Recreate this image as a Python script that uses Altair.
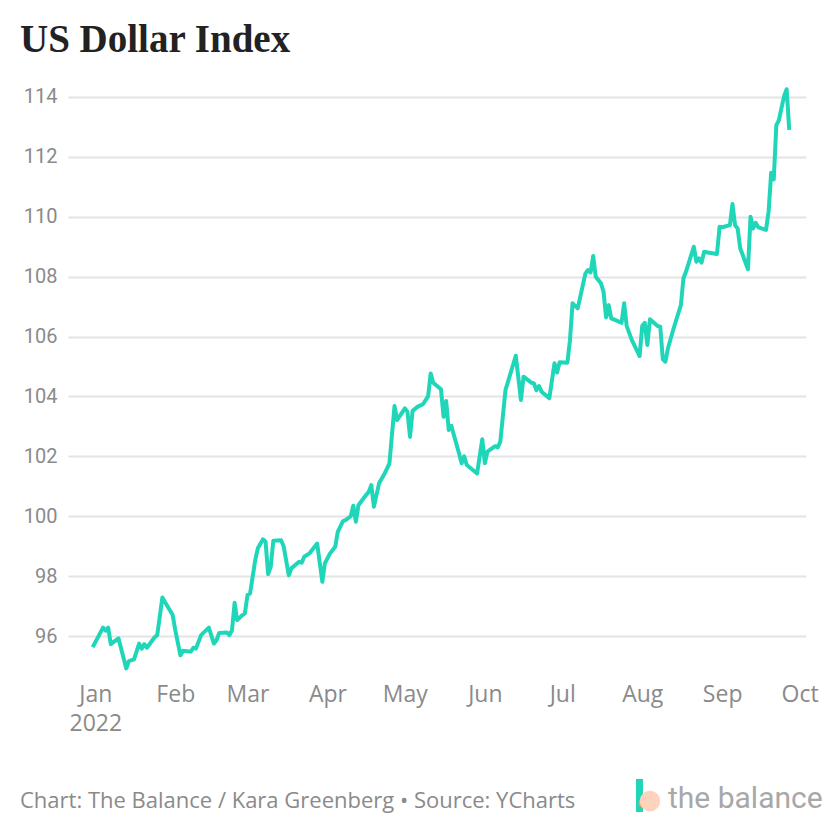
import altair as alt
import pandas as pd

# ---- data ----
dates = [
    "2021-12-31", "2022-01-04", "2022-01-05", "2022-01-06", "2022-01-07", "2022-01-10",
    "2022-01-13", "2022-01-14", "2022-01-16", "2022-01-18", "2022-01-19", "2022-01-20",
    "2022-01-21", "2022-01-24", "2022-01-25", "2022-01-27", "2022-01-28", "2022-01-31",
    "2022-02-01", "2022-02-03", "2022-02-04", "2022-02-07", "2022-02-08", "2022-02-09",
    "2022-02-11", "2022-02-14", "2022-02-16", "2022-02-17", "2022-02-18", "2022-02-21",
    "2022-02-22", "2022-02-23", "2022-02-24", "2022-02-25", "2022-02-27", "2022-02-28",
    "2022-03-01", "2022-03-02", "2022-03-04", "2022-03-05", "2022-03-07", "2022-03-08",
    "2022-03-09", "2022-03-10", "2022-03-11", "2022-03-14", "2022-03-15", "2022-03-17",
    "2022-03-18", "2022-03-21", "2022-03-22", "2022-03-23", "2022-03-25", "2022-03-28",
    "2022-03-30", "2022-03-31", "2022-04-02", "2022-04-04", "2022-04-05", "2022-04-07",
    "2022-04-08", "2022-04-10", "2022-04-11", "2022-04-12", "2022-04-13", "2022-04-15",
    "2022-04-17", "2022-04-18", "2022-04-19", "2022-04-21", "2022-04-23", "2022-04-25",
    "2022-04-27", "2022-04-28", "2022-05-01", "2022-05-02", "2022-05-03", "2022-05-04",
    "2022-05-06", "2022-05-08", "2022-05-10", "2022-05-11", "2022-05-12", "2022-05-15",
    "2022-05-16", "2022-05-17", "2022-05-18", "2022-05-19", "2022-05-22", "2022-05-23",
    "2022-05-24", "2022-05-25", "2022-05-29", "2022-05-31", "2022-06-01", "2022-06-02",
    "2022-06-05", "2022-06-06", "2022-06-07", "2022-06-09", "2022-06-13", "2022-06-15",
    "2022-06-16", "2022-06-19", "2022-06-20", "2022-06-21", "2022-06-22", "2022-06-23",
    "2022-06-26", "2022-06-28", "2022-06-29", "2022-06-30", "2022-07-03", "2022-07-04",
    "2022-07-05", "2022-07-07", "2022-07-08", "2022-07-10", "2022-07-11", "2022-07-12",
    "2022-07-13", "2022-07-14", "2022-07-16", "2022-07-17", "2022-07-18", "2022-07-19",
    "2022-07-20", "2022-07-23", "2022-07-24", "2022-07-25", "2022-07-26", "2022-07-28",
    "2022-07-31", "2022-08-01", "2022-08-02", "2022-08-03", "2022-08-04", "2022-08-07",
    "2022-08-08", "2022-08-09", "2022-08-10", "2022-08-11", "2022-08-13", "2022-08-14",
    "2022-08-16", "2022-08-17", "2022-08-18", "2022-08-21", "2022-08-22", "2022-08-23",
    "2022-08-24", "2022-08-25", "2022-08-27", "2022-08-30", "2022-08-31", "2022-09-01",
    "2022-09-04", "2022-09-05", "2022-09-06", "2022-09-07", "2022-09-08", "2022-09-11",
    "2022-09-12", "2022-09-13", "2022-09-14", "2022-09-15", "2022-09-18", "2022-09-19",
    "2022-09-20", "2022-09-21", "2022-09-22", "2022-09-23", "2022-09-25", "2022-09-26",
    "2022-09-27",
]
values = [
    95.63, 96.28, 96.18, 96.28, 95.73, 95.92,
    94.92, 95.16, 95.22, 95.75, 95.58, 95.73,
    95.61, 95.96, 96.03, 97.29, 97.14, 96.70,
    96.20, 95.36, 95.51, 95.48, 95.61, 95.58,
    96.03, 96.28, 95.75, 95.86, 96.10, 96.12,
    96.03, 96.20, 97.11, 96.53, 96.70, 96.76,
    97.37, 97.42, 98.54, 98.93, 99.23, 99.15,
    98.07, 98.31, 99.18, 99.20, 99.00, 98.03,
    98.26, 98.48, 98.45, 98.65, 98.76, 99.09,
    97.81, 98.43, 98.76, 98.98, 99.48, 99.84,
    99.87, 100.00, 100.35, 99.82, 100.37, 100.60,
    100.82, 101.04, 100.32, 101.10, 101.40, 101.76,
    103.68, 103.21, 103.60, 103.49, 102.65, 103.52,
    103.66, 103.74, 104.00, 104.77, 104.46, 104.24,
    103.32, 103.85, 102.88, 103.02, 102.10, 101.77,
    102.00, 101.71, 101.43, 102.57, 101.77, 102.16,
    102.34, 102.30, 102.49, 104.21, 105.36, 103.88,
    104.66, 104.46, 104.44, 104.21, 104.35, 104.16,
    103.94, 105.11, 104.80, 105.14, 105.13, 105.88,
    107.11, 106.94, 107.33, 108.11, 108.22, 108.14,
    108.69, 108.00, 107.78, 107.50, 106.64, 107.05,
    106.61, 106.50, 106.46, 107.11, 106.35, 105.88,
    105.35, 106.35, 106.46, 105.72, 106.58, 106.35,
    106.33, 105.24, 105.16, 105.61, 106.22, 106.50,
    107.05, 107.95, 108.17, 109.00, 108.50, 108.61,
    108.47, 108.83, 108.80, 108.76, 109.67, 109.65,
    109.72, 110.43, 109.72, 109.61, 108.95, 108.25,
    110.00, 109.61, 109.80, 109.65, 109.56, 110.17,
    111.47, 111.25, 113.06, 113.23, 114.03, 114.26,
    112.90,
]
y_ticks = [96, 98, 100, 102, 104, 106, 108, 110, 112, 114]

title_text = "US Dollar Index"
footer_text = "Chart: The Balance / Kara Greenberg \u2022 Source: YCharts"
logo_text = "the balance"

df = pd.DataFrame({"date": pd.to_datetime(dates), "value": values})

W, H = 738, 587
LINE = "#1fd6b9"
GRAY = "#8a8a8a"

x_enc = alt.X(
    "date:T",
    scale=alt.Scale(domain=[alt.DateTime(year=2021, month=12, date=21, hours=10),
                            alt.DateTime(year=2022, month=10, date=3, hours=12)]),
    axis=alt.Axis(
        title=None, domain=False, ticks=False, grid=False,
        tickCount={"interval": "month", "step": 1},
        labelExpr="month(datum.value) == 0 ? [timeFormat(datum.value, '%b'), timeFormat(datum.value, '%Y')] : timeFormat(datum.value, '%b')",
        labelFontSize=23, labelColor=GRAY, labelFont="Open Sans", labelPadding=11,
        labelLineHeight=29, labelFlush=False, labelAlign="center", labelOverlap=False,
    ),
)
y_enc = alt.Y(
    "value:Q",
    scale=alt.Scale(domain=[94.8, 114.4], nice=False, zero=False),
    axis=alt.Axis(
        title=None, domain=False, ticks=False, values=y_ticks,
        labelFontSize=20, labelColor=GRAY, labelFont="Roboto", labelPadding=11,
        gridColor="#e4e4e4", gridWidth=2,
    ),
)

line = alt.Chart(df).mark_line(color=LINE, strokeWidth=4, strokeJoin="round").encode(
    x=x_enc, y=y_enc
)

one = pd.DataFrame({"t": [title_text]})
title = alt.Chart(one).mark_text(
    align="left", baseline="alphabetic", font="Liberation Serif", fontWeight="bold",
    fontSize=39, color="#222222"
).encode(text="t:N", x=alt.value(-48), y=alt.value(-33))

foot = alt.Chart(pd.DataFrame({"t": [footer_text]})).mark_text(
    align="left", baseline="middle", font="Open Sans", fontSize=22, color=GRAY
).encode(text="t:N", x=alt.value(-48), y=alt.value(716))

logo = alt.Chart(pd.DataFrame({"t": [logo_text]})).mark_text(
    align="left", baseline="middle", font="Roboto", fontSize=30, color="#a8a8a8"
).encode(text="t:N", x=alt.value(600), y=alt.value(714))

logo_bar = alt.Chart(pd.DataFrame({"t": [1]})).mark_rect(color=LINE).encode(
    x=alt.value(568), x2=alt.value(575), y=alt.value(694), y2=alt.value(727)
)
logo_dot = alt.Chart(pd.DataFrame({"t": [1]})).mark_point(
    filled=True, shape="circle", size=420, color="#fdd3bd", opacity=1
).encode(x=alt.value(582), y=alt.value(716))
logo_dot2 = alt.Chart(pd.DataFrame({"t": [1]})).mark_point(
    filled=True, shape="circle", size=120, color="#f59a5a", opacity=1
).encode(x=alt.value(576), y=alt.value(718))

chart = alt.layer(line, title, foot, logo_bar, logo_dot2, logo_dot, logo).properties(
    width=W, height=H,
    autosize=alt.AutoSizeParams(type="none"),
    padding={"left": 60, "top": 77, "right": 26, "bottom": 160},
    background="white",
).configure_view(stroke=None)

chart.save("out.html", embed_options={"renderer": "svg", "actions": False})
